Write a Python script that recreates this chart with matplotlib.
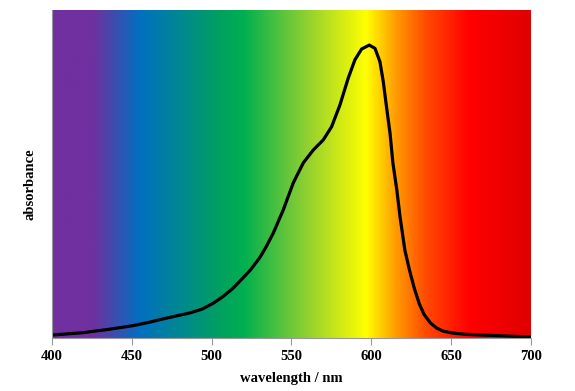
import numpy as np
import matplotlib
matplotlib.use('Agg')
from matplotlib import pyplot as plt
from matplotlib.colors import LinearSegmentedColormap

# absorbance spectrum
wavelength = [400, 419, 435, 450, 460, 472, 486, 494, 501, 507, 513, 518, 524,
              530, 534, 538.6, 544.8, 551.1, 557.4, 563.6, 569.9, 575.1, 580.3,
              585.5, 589.7, 593.9, 598.7, 602.3, 605.4, 607.5, 609.6, 611.7,
              613.5, 616, 618, 621, 624, 627, 630, 633, 637, 641, 645, 651,
              660, 680, 700]
absorbance = [0.009, 0.016, 0.026, 0.037, 0.047, 0.061, 0.076, 0.088, 0.106,
              0.126, 0.150, 0.175, 0.206, 0.244, 0.277, 0.320, 0.390, 0.473,
              0.534, 0.573, 0.604, 0.644, 0.710, 0.792, 0.848, 0.881, 0.893,
              0.883, 0.842, 0.781, 0.701, 0.625, 0.534, 0.450, 0.369, 0.268,
              0.205, 0.150, 0.105, 0.072, 0.046, 0.030, 0.021, 0.015, 0.011,
              0.007, 0.003]

# background spectrum colour stops (nm, colour)
stop_nm = [400, 425, 455, 505, 520, 560, 597, 616, 635, 662, 700]
stop_col = ['#7030a0', '#7030a0', '#0070c0', '#00a060', '#00b050', '#92d030',
            '#ffff00', '#ff9a00', '#ff4a00', '#ff0000', '#e00000']
ticks = [400, 450, 500, 550, 600, 650, 700]

plt.rcParams['font.family'] = ['Liberation Serif', 'DejaVu Serif']
fig = plt.figure(figsize=(5.75, 3.91), dpi=100)
ax = fig.add_axes([52/575, 1 - 338/391, 479/575, 328/391])

pos = [(s - 400) / 300 for s in stop_nm]
cmap = LinearSegmentedColormap.from_list('spec', list(zip(pos, stop_col)))
grad = np.linspace(0, 1, 600).reshape(1, -1)
ax.imshow(grad, cmap=cmap, aspect='auto', extent=[400, 700, 0, 1], origin='lower')

ax.plot(wavelength, absorbance, color='black', lw=2.3,
        solid_joinstyle='round', solid_capstyle='round')

ax.set_xlim(400, 700)
ax.set_ylim(0, 1)
ax.set_xticks(ticks)
ax.set_yticks([])
ax.tick_params(axis='x', direction='out', length=5, color='#999999',
               labelsize=10.5, pad=4)
for lab in ax.get_xticklabels():
    lab.set_fontweight('bold')
for s in ['top', 'right']:
    ax.spines[s].set_visible(False)
for s in ['left', 'bottom']:
    ax.spines[s].set_color('#999999')
    ax.spines[s].set_linewidth(0.8)

ax.set_xlabel('wavelength / nm', fontsize=10.5, fontweight='bold', labelpad=6)
ax.set_ylabel('absorbance', fontsize=10.5, fontweight='bold')
ax.yaxis.set_label_coords(-0.033, 0.47)

fig.savefig('out.png', dpi=100)
